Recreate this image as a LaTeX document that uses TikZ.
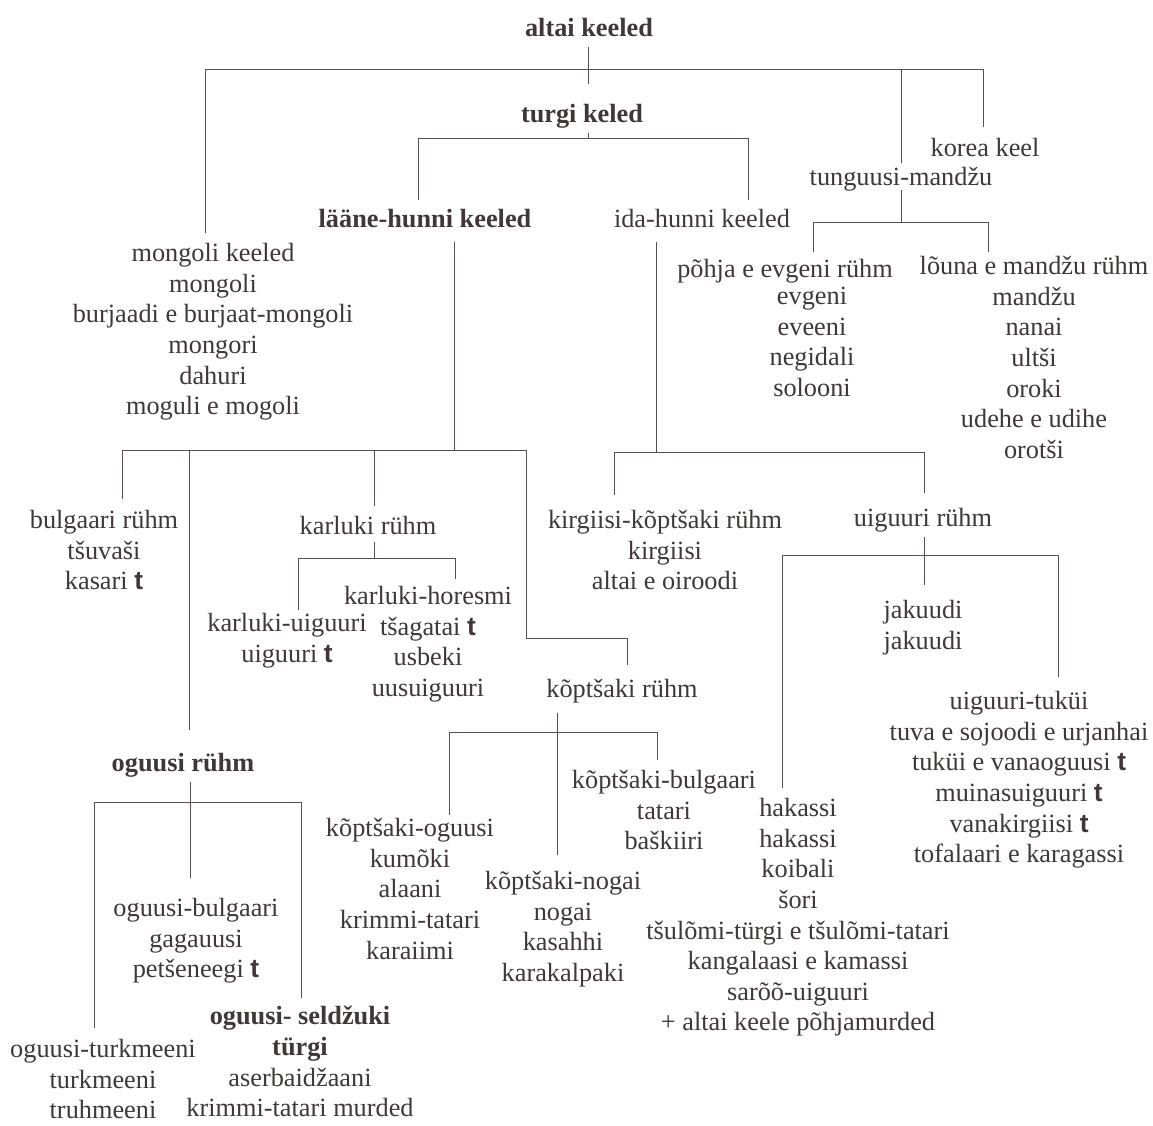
\documentclass[tikz,border=0pt]{standalone}
\usepackage{fontspec}
\setmainfont{Liberation Serif}
\setsansfont{Liberation Sans}
\definecolor{txt}{RGB}{64,56,56}
\definecolor{lnc}{RGB}{88,80,80}
\newcommand{\tb}{\textsf{\textbf{t}}}
\newcommand{\fsz}{\fontsize{26.3}{30.6}\selectfont}
\begin{document}
\begin{tikzpicture}[x=1pt,y=-1pt,
  lbl/.style={anchor=north, inner sep=0pt, align=center, font=\fsz, text=txt, yshift=11.85pt, execute at begin node=\strut},
  blbl/.style={lbl, font=\fsz\bfseries},
  ln/.style={draw=lnc, line width=0.9pt}]
\useasboundingbox (0,0) rectangle (1153,1126);
\fill[white] (0,0) rectangle (1153,1126);

% ---------- nodes ----------
\node[blbl] (altai) at (589,27) {altai keeled};
\node[blbl] (turgi) at (582,113) {turgi keled};
\node[blbl] (lh) at (425,218) {lääne-hunni keeled};
\node[lbl] (ih) at (702,218) {ida-hunni keeled};
\node[lbl] (mong) at (213,255) {mongoli keeled\\mongoli\\burjaadi e burjaat-mongoli\\mongori\\dahuri\\moguli e mogoli};
\node[lbl] (korea) at (985,147) {korea keel};
\node[lbl] (tm) at (901,176) {tunguusi-mandžu};
\node[lbl] (pohja) at (785,268) {põhja e evgeni rühm};
\node[lbl] (pohjal) at (812,299) {evgeni\\eveeni\\negidali\\solooni};
\node[lbl] (louna) at (1034,268) {lõuna e mandžu rühm\\mandžu\\nanai\\ultši\\oroki\\udehe e udihe\\orotši};
\node[lbl] (bulg) at (104,522) {bulgaari rühm\\tšuvaši\\kasari \tb};
\node[lbl] (karl) at (368,525) {karluki rühm};
\node[lbl] (ku) at (287,625) {karluki-uiguuri\\uiguuri \tb};
\node[lbl] (kh) at (428,598) {karluki-horesmi\\tšagatai \tb\\usbeki\\uusuiguuri};
\node[lbl] (kop) at (622,688) {kõptšaki rühm};
\node[lbl] (ko) at (410,830) {kõptšaki-oguusi\\kumõki\\alaani\\krimmi-tatari\\karaiimi};
\node[lbl] (kb) at (664,782) {kõptšaki-bulgaari\\tatari\\baškiiri};
\node[lbl] (kn) at (563,883) {kõptšaki-nogai\\nogai\\kasahhi\\karakalpaki};
\node[blbl] (og) at (183,762) {oguusi rühm};
\node[lbl] (ob) at (196,910) {oguusi-bulgaari\\gagauusi\\petšeneegi \tb};
\node[lbl] (ot) at (103,1051) {oguusi-turkmeeni\\turkmeeni\\truhmeeni};
\node[lbl] (os) at (300,1018) {\textbf{oguusi- seldžuki}\\\textbf{türgi}\\aserbaidžaani\\krimmi-tatari murded};
\node[lbl] (kirg) at (665,522) {kirgiisi-kõptšaki rühm\\kirgiisi\\altai e oiroodi};
\node[lbl] (uig) at (923,517) {uiguuri rühm};
\node[lbl] (jak) at (923,612) {jakuudi\\jakuudi};
\node[lbl] (ut) at (1019,703) {uiguuri-tuküi\\tuva e sojoodi e urjanhai\\tuküi e vanaoguusi \tb\\muinasuiguuri \tb\\vanakirgiisi \tb\\tofalaari e karagassi};
\node[lbl] (hak) at (798,810) {hakassi\\hakassi\\koibali\\šori\\tšulõmi-türgi e tšulõmi-tatari\\kangalaasi e kamassi\\sarõõ-uiguuri\\+ altai keele põhjamurded};

% ---------- junction coordinates ----------
\coordinate (a1) at (588,47); \coordinate (a2) at (588,84);
\coordinate (b1l) at (205,69); \coordinate (b1r) at (983,69); \coordinate (b1t) at (901,69);
\coordinate (m1) at (205,233); \coordinate (k1) at (983,127); \coordinate (t1) at (901,163);
\coordinate (tg1) at (588,133); \coordinate (b2) at (588,138);
\coordinate (b2l) at (418,138); \coordinate (b2r) at (748,138);
\coordinate (lh1) at (418,200); \coordinate (ih1) at (748,200);
\coordinate (tm1) at (901,190); \coordinate (b3) at (901,222);
\coordinate (b3l) at (813,222); \coordinate (b3r) at (988,222);
\coordinate (p1) at (813,252); \coordinate (l1) at (988,252);
\coordinate (lh2) at (454,242); \coordinate (b4) at (454,450);
\coordinate (b4a) at (122,450); \coordinate (b4b) at (189,450);
\coordinate (b4c) at (374,450); \coordinate (b4d) at (526,450);
\coordinate (bu1) at (122,499); \coordinate (og1) at (189,730);
\coordinate (ka1) at (374,506); \coordinate (kp0) at (526,638);
\coordinate (kp1) at (627,638); \coordinate (kp2) at (627,665);
\coordinate (ka2) at (374,542); \coordinate (b5) at (374,558);
\coordinate (b5l) at (298,558); \coordinate (b5r) at (455,558);
\coordinate (ku1) at (298,610); \coordinate (kh1) at (455,579);
\coordinate (kp3) at (557,713); \coordinate (kn1) at (557,855);
\coordinate (b6l) at (449,732); \coordinate (b6r) at (657,732);
\coordinate (ko1) at (449,815); \coordinate (kb1) at (657,760);
\coordinate (og2) at (190,782); \coordinate (ob1) at (190,878);
\coordinate (b7l) at (94,802); \coordinate (b7r) at (301,802);
\coordinate (ot1) at (94,1028); \coordinate (os1) at (301,998);
\coordinate (ih2) at (656,242); \coordinate (b8) at (656,452);
\coordinate (b8l) at (614,452); \coordinate (b8r) at (924,452);
\coordinate (ki1) at (614,495); \coordinate (ui1) at (924,493);
\coordinate (ui2) at (924,537); \coordinate (ja1) at (924,585);
\coordinate (b9l) at (782,555); \coordinate (b9r) at (1058,555);
\coordinate (ha1) at (782,788); \coordinate (ut1) at (1058,677);

% ---------- connectors ----------
\draw[ln] (a1) -- (a2);
\draw[ln] (b1l) -- (b1r);
\draw[ln] (b1l) -- (m1);
\draw[ln] (b1r) -- (k1);
\draw[ln] (b1t) -- (t1);
\draw[ln] (tg1) -- (b2);
\draw[ln] (b2l) -- (b2r);
\draw[ln] (b2l) -- (lh1);
\draw[ln] (b2r) -- (ih1);
\draw[ln] (tm1) -- (b3);
\draw[ln] (b3l) -- (b3r);
\draw[ln] (b3l) -- (p1);
\draw[ln] (b3r) -- (l1);
\draw[ln] (lh2) -- (b4);
\draw[ln] (b4a) -- (b4d);
\draw[ln] (b4a) -- (bu1);
\draw[ln] (b4b) -- (og1);
\draw[ln] (b4c) -- (ka1);
\draw[ln] (b4d) -- (kp0) -- (kp1) -- (kp2);
\draw[ln] (ka2) -- (b5);
\draw[ln] (b5l) -- (b5r);
\draw[ln] (b5l) -- (ku1);
\draw[ln] (b5r) -- (kh1);
\draw[ln] (kp3) -- (kn1);
\draw[ln] (b6l) -- (b6r);
\draw[ln] (b6l) -- (ko1);
\draw[ln] (b6r) -- (kb1);
\draw[ln] (og2) -- (ob1);
\draw[ln] (b7l) -- (b7r);
\draw[ln] (b7l) -- (ot1);
\draw[ln] (b7r) -- (os1);
\draw[ln] (ih2) -- (b8);
\draw[ln] (b8l) -- (b8r);
\draw[ln] (b8l) -- (ki1);
\draw[ln] (b8r) -- (ui1);
\draw[ln] (ui2) -- (ja1);
\draw[ln] (b9l) -- (b9r);
\draw[ln] (b9l) -- (ha1);
\draw[ln] (b9r) -- (ut1);
\end{tikzpicture}
\end{document}
